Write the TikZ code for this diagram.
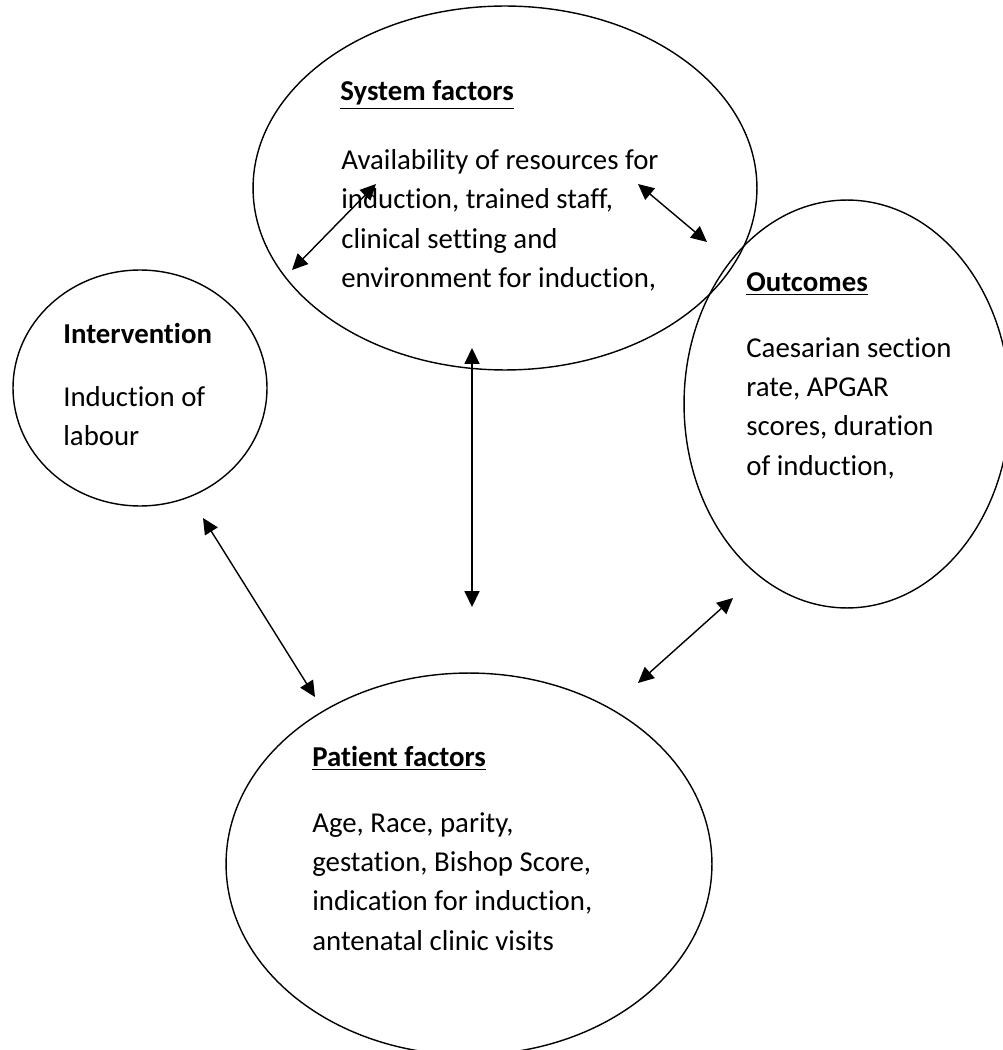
\documentclass[tikz,border=0pt]{standalone}
\usepackage{fontspec}
\setmainfont{Carlito}[Ligatures=NoCommon]
\usetikzlibrary{arrows.meta,shapes.geometric}

\begin{document}
\begin{tikzpicture}[x=0.02cm,y=-0.02cm,
    bubble/.style={draw, ellipse, line width=0.8pt, inner sep=0pt},
    head/.style={font=\fontsize{16.4}{22.4}\selectfont\bfseries, inner sep=0pt, anchor=west},
    txt/.style={font=\fontsize{16.4}{22.4}\selectfont, align=left, inner sep=0pt, anchor=north west},
    link/.style={<->, >={Triangle[length=9pt,width=8.5pt]}, line width=0.8pt}]
    \useasboundingbox (0,0) rectangle (1002,1050);

    % The four bubbles
    \node[bubble, minimum width=10.08cm, minimum height=7.28cm] (sys) at (505,188) {};
    \node[bubble, minimum width=5.08cm, minimum height=4.72cm] (int) at (140,388) {};
    \node[bubble, minimum width=6.52cm, minimum height=8.16cm] (out) at (847,404) {};
    \node[bubble, minimum width=9.72cm, minimum height=7.64cm] (pat) at (469,864) {};

    % Texts inside the bubbles
    \node[head] (systitle) at (340,95) {\underline{System factors}};
    \node[txt] (sysbody) at (341,149) {Availability of resources for\\induction, trained staff,\\clinical setting and\\environment for induction,};
    \node[head] (inttitle) at (63,333) {Intervention};
    \node[txt] (intbody) at (63,386) {Induction of\\labour};
    \node[head] (outtitle) at (746,284) {\underline{Outcomes}};
    \node[txt] (outbody) at (746,337) {Caesarian section\\rate, APGAR\\scores, duration\\of induction,};
    \node[head] (pattitle) at (312,758) {\underline{Patient factors}};
    \node[txt] (patbody) at (312,812) {Age, Race, parity,\\gestation, Bishop Score,\\indication for induction,\\antenatal clinic visits};

    % Ends of the two-headed arrows
    \coordinate (intsysA) at (292,270);
    \coordinate (intsysB) at (376,184);
    \coordinate (sysoutA) at (638,184);
    \coordinate (sysoutB) at (707,242);
    \coordinate (syspatA) at (472,348);
    \coordinate (syspatB) at (472,607);
    \coordinate (intpatA) at (203,518);
    \coordinate (intpatB) at (315,697);
    \coordinate (outpatA) at (638,683);
    \coordinate (outpatB) at (733,598);

    % Two-headed arrows
    \draw[link] (intsysA) -- (intsysB);
    \draw[link] (sysoutA) -- (sysoutB);
    \draw[link] (syspatA) -- (syspatB);
    \draw[link] (intpatA) -- (intpatB);
    \draw[link] (outpatA) -- (outpatB);
\end{tikzpicture}
\end{document}
